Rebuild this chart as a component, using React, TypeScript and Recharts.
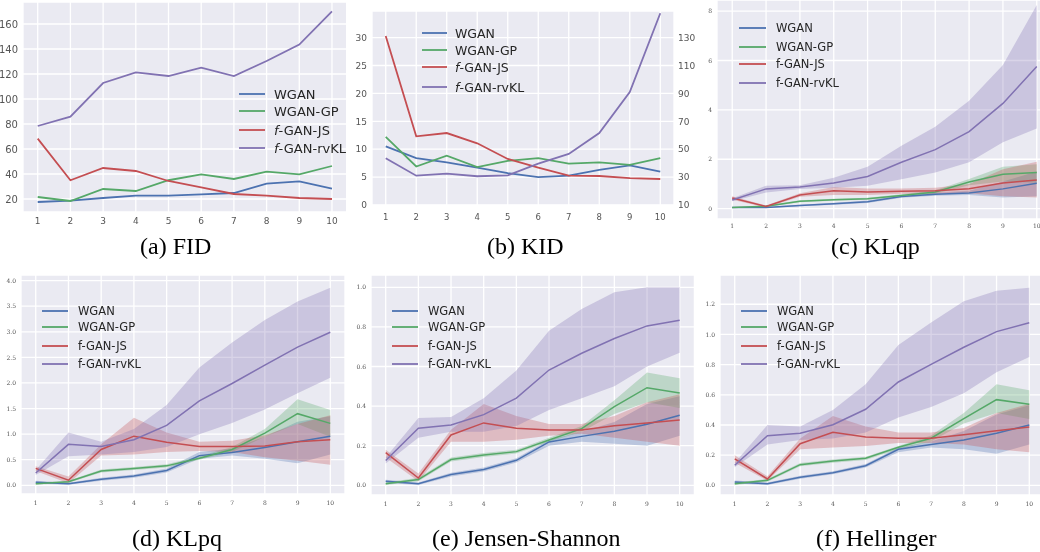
import React from 'react';
import { ComposedChart, Line, Area, XAxis, YAxis, CartesianGrid } from 'recharts';

const EPOCHS = [1, 2, 3, 4, 5, 6, 7, 8, 9, 10];
const NAMES = ['WGAN', 'WGAN-GP', 'f-GAN-JS', 'f-GAN-rvKL'];
const COLORS = ['#4C72B0', '#55A868', '#C44E52', '#8172B2'];

// (a) FID
const FID_WGAN = [17.6, 18.7, 20.8, 22.7, 22.7, 23.7, 24.8, 32.3, 34.1, 28.3];
const FID_WGAN_GP = [21.6, 18.4, 28, 26.4, 35, 39.7, 36, 41.9, 39.7, 46.4];
const FID_JS = [68.3, 35, 44.8, 42.4, 34.4, 29.3, 24, 22.7, 20.8, 20];
const FID_RVKL = [78.4, 85.9, 112.8, 121.3, 118.4, 125.1, 118.4, 130.4, 143.5, 170.1];

// (b) KID (rvKL on the right axis)
const KID_WGAN = [10.5, 8.4, 7.65, 6.7, 5.7, 5.0, 5.26, 6.3, 7.1, 6.0];
const KID_WGAN_GP = [12.2, 6.9, 8.85, 6.8, 7.9, 8.4, 7.4, 7.65, 7.2, 8.4];
const KID_JS = [30.3, 12.3, 12.9, 11.06, 8.25, 6.7, 5.26, 5.2, 4.8, 4.66];
const KID_RVKL = [43.5, 31, 32.5, 30.6, 31.3, 39.6, 46.6, 61.6, 91, 147.5];

// (c) KLqp
const KLQP_WGAN = [0.05, 0.05, 0.13, 0.2, 0.28, 0.49, 0.58, 0.63, 0.8, 1.03];
const KLQP_WGAN_CI: [number, number][] = [[0.03, 0.07], [0.03, 0.07], [0.1, 0.16], [0.16, 0.24], [0.23, 0.33], [0.44, 0.54], [0.52, 0.64], [0.55, 0.72], [0.45, 1.1], [0.5, 1.5]];
const KLQP_WGAN_GP = [0.05, 0.1, 0.3, 0.36, 0.4, 0.53, 0.67, 1.08, 1.39, 1.46];
const KLQP_WGAN_GP_CI: [number, number][] = [[0.03, 0.07], [0.07, 0.13], [0.26, 0.34], [0.32, 0.4], [0.36, 0.44], [0.48, 0.58], [0.6, 0.74], [0.95, 1.2], [1.1, 1.7], [1.05, 1.8]];
const KLQP_JS = [0.43, 0.09, 0.55, 0.72, 0.67, 0.7, 0.72, 0.81, 1.04, 1.16];
const KLQP_JS_CI: [number, number][] = [[0.36, 0.5], [0.05, 0.13], [0.48, 0.62], [0.55, 0.88], [0.55, 0.82], [0.6, 0.82], [0.6, 0.85], [0.62, 1.0], [0.5, 1.6], [0.45, 1.9]];
const KLQP_RVKL = [0.35, 0.8, 0.88, 1.04, 1.3, 1.88, 2.39, 3.12, 4.26, 5.76];
const KLQP_RVKL_CI: [number, number][] = [[0.3, 0.42], [0.65, 0.93], [0.8, 0.95], [0.85, 1.25], [0.93, 1.7], [1.19, 2.55], [1.46, 3.32], [1.88, 4.37], [2.69, 5.82], [3.25, 8.25]];

// (d) KLpq
const KLPQ_WGAN = [0.06, 0.03, 0.12, 0.18, 0.29, 0.58, 0.64, 0.74, 0.85, 0.96];
const KLPQ_WGAN_CI: [number, number][] = [[0.03, 0.09], [0.01, 0.05], [0.09, 0.15], [0.15, 0.21], [0.25, 0.33], [0.52, 0.65], [0.58, 0.72], [0.52, 0.95], [0.43, 1.24], [0.6, 1.35]];
const KLPQ_WGAN_GP = [0.03, 0.07, 0.28, 0.33, 0.38, 0.53, 0.7, 1.02, 1.4, 1.21];
const KLPQ_WGAN_GP_CI: [number, number][] = [[0.01, 0.05], [0.05, 0.09], [0.25, 0.31], [0.3, 0.36], [0.35, 0.41], [0.5, 0.57], [0.65, 0.75], [0.95, 1.1], [1.2, 1.68], [0.95, 1.47]];
const KLPQ_JS = [0.33, 0.1, 0.7, 0.96, 0.84, 0.76, 0.76, 0.77, 0.85, 0.89];
const KLPQ_JS_CI: [number, number][] = [[0.28, 0.37], [0.04, 0.17], [0.58, 0.8], [0.6, 1.32], [0.65, 1.03], [0.67, 0.85], [0.65, 0.87], [0.55, 0.98], [0.48, 1.2], [0.4, 1.37]];
const KLPQ_RVKL = [0.24, 0.8, 0.76, 0.89, 1.17, 1.65, 1.99, 2.35, 2.7, 2.99];
const KLPQ_RVKL_CI: [number, number][] = [[0.2, 0.3], [0.57, 1.03], [0.6, 0.85], [0.65, 1.1], [0.75, 1.57], [1.0, 2.3], [1.22, 2.79], [1.48, 3.23], [1.8, 3.59], [2.1, 3.86]];

// (e) Jensen-Shannon
const JS_WGAN = [0.02, 0.008, 0.054, 0.08, 0.126, 0.219, 0.247, 0.273, 0.308, 0.354];
const JS_WGAN_CI: [number, number][] = [[0.012, 0.028], [0.002, 0.014], [0.045, 0.063], [0.07, 0.09], [0.115, 0.137], [0.2, 0.23], [0.22, 0.27], [0.21, 0.32], [0.2, 0.41], [0.25, 0.45]];
const JS_WGAN_GP = [0.008, 0.029, 0.13, 0.153, 0.17, 0.229, 0.286, 0.397, 0.493, 0.466];
const JS_WGAN_GP_CI: [number, number][] = [[0.002, 0.014], [0.02, 0.038], [0.12, 0.14], [0.143, 0.163], [0.16, 0.18], [0.22, 0.24], [0.27, 0.3], [0.36, 0.43], [0.42, 0.57], [0.39, 0.54]];
const JS_JS = [0.165, 0.037, 0.254, 0.315, 0.288, 0.279, 0.279, 0.301, 0.315, 0.33];
const JS_JS_CI: [number, number][] = [[0.14, 0.18], [0.02, 0.06], [0.22, 0.28], [0.22, 0.41], [0.23, 0.35], [0.25, 0.31], [0.26, 0.31], [0.24, 0.35], [0.22, 0.42], [0.2, 0.46]];
const JS_RVKL = [0.125, 0.288, 0.305, 0.357, 0.44, 0.582, 0.667, 0.741, 0.805, 0.833];
const JS_RVKL_CI: [number, number][] = [[0.11, 0.14], [0.24, 0.34], [0.27, 0.345], [0.27, 0.44], [0.3, 0.58], [0.38, 0.78], [0.44, 0.89], [0.5, 0.975], [0.6, 1.0], [0.67, 1.0]];

// (f) Hellinger
const HEL_WGAN = [0.022, 0.011, 0.053, 0.084, 0.13, 0.239, 0.27, 0.3, 0.345, 0.4];
const HEL_WGAN_CI: [number, number][] = [[0.012, 0.032], [0.003, 0.019], [0.043, 0.063], [0.074, 0.094], [0.118, 0.142], [0.22, 0.25], [0.25, 0.29], [0.24, 0.36], [0.21, 0.47], [0.27, 0.53]];
const HEL_WGAN_GP = [0.011, 0.033, 0.137, 0.161, 0.179, 0.252, 0.312, 0.442, 0.568, 0.537];
const HEL_WGAN_GP_CI: [number, number][] = [[0.003, 0.019], [0.024, 0.042], [0.126, 0.148], [0.15, 0.172], [0.168, 0.19], [0.24, 0.26], [0.29, 0.33], [0.41, 0.48], [0.48, 0.67], [0.44, 0.63]];
const HEL_JS = [0.175, 0.042, 0.276, 0.351, 0.32, 0.312, 0.312, 0.336, 0.362, 0.387];
const HEL_JS_CI: [number, number][] = [[0.15, 0.2], [0.03, 0.06], [0.24, 0.31], [0.25, 0.46], [0.26, 0.39], [0.28, 0.35], [0.28, 0.35], [0.27, 0.38], [0.24, 0.48], [0.22, 0.54]];
const HEL_RVKL = [0.133, 0.329, 0.345, 0.402, 0.504, 0.685, 0.802, 0.915, 1.019, 1.078];
const HEL_RVKL_CI: [number, number][] = [[0.12, 0.15], [0.27, 0.4], [0.3, 0.39], [0.31, 0.5], [0.35, 0.67], [0.45, 0.93], [0.52, 1.08], [0.61, 1.22], [0.75, 1.29], [0.85, 1.31]];

// tick labels
const FID_TICKS = [20, 40, 60, 80, 100, 120, 140, 160];
const KID_TICKS = [0, 5, 10, 15, 20, 25, 30];
const KID_RIGHT_TICKS = [10, 30, 50, 70, 90, 110, 130];
const KLQP_TICKS = [0, 2, 4, 6, 8];
const KLPQ_TICKS = [0, 0.5, 1, 1.5, 2, 2.5, 3, 3.5, 4];
const JS_TICKS = [0, 0.2, 0.4, 0.6, 0.8, 1.0];
const HEL_TICKS = [0, 0.2, 0.4, 0.6, 0.8, 1.0, 1.2];

const SANS = '"DejaVu Sans", sans-serif';
const SERIF = '"DejaVu Serif", serif';
const CAPTION = '"Liberation Serif", "Times New Roman", serif';

type Series = { mean: number[]; ci?: [number, number][]; right?: boolean };

type PanelProps = {
  L: number; T: number; R: number; B: number;
  yW: number; rW?: number;
  yDomain: [number, number]; yTicks: number[];
  rDomain?: [number, number]; rTicks?: number[];
  fmt?: (v: number) => string;
  font: string; fontSize: number; yFontSize?: number; xTickSize: number;
  lineW: number;
  series: Series[];
};

function Panel(p: PanelProps) {
  const rW = p.rW || 0;
  const xh = 24;
  const w = p.yW + (p.R - p.L) + rW;
  const h = p.B - p.T + xh;
  const rows = EPOCHS.map((x, i) => {
    const r: any = { x };
    p.series.forEach((s, k) => {
      r['m' + k] = s.mean[i];
      if (s.ci) r['c' + k] = s.ci[i];
    });
    return r;
  });
  const tick = { fontSize: p.fontSize, fontFamily: p.font, fill: '#555' };
  const yTick = { ...tick, fontSize: p.yFontSize || p.fontSize };
  return (
    <div style={{ position: 'absolute', left: p.L - p.yW, top: p.T, width: w, height: h, willChange: 'transform' }}>
      <ComposedChart width={w} height={h} data={rows} margin={{ top: 0, right: 0, bottom: 0, left: 0 }}>
        <CartesianGrid yAxisId="l" fill="#EAEAF2" stroke="#fff" strokeWidth={1.3} />
        <XAxis dataKey="x" type="number" domain={[0.55, 10.45]} ticks={EPOCHS} interval={0}
          height={xh} axisLine={false} tickLine={false} tickSize={p.xTickSize} tick={tick} allowDataOverflow />
        <YAxis yAxisId="l" type="number" domain={p.yDomain} ticks={p.yTicks} interval={0} width={p.yW}
          axisLine={false} tickLine={false} tickSize={3} tick={yTick} tickFormatter={p.fmt} allowDataOverflow />
        {p.rDomain && (
          <YAxis yAxisId="r" orientation="right" type="number" domain={p.rDomain} ticks={p.rTicks} interval={0}
            width={rW} axisLine={false} tickLine={false} tickSize={2} tick={yTick} allowDataOverflow />
        )}
        {p.series.map((s, k) => (
          <React.Fragment key={k}>
            {s.ci && (
              <Area yAxisId={s.right ? 'r' : 'l'} dataKey={'c' + k} type="linear" stroke="none"
                fill={COLORS[k]} fillOpacity={0.3} isAnimationActive={false} activeDot={false} />
            )}
            <Line yAxisId={s.right ? 'r' : 'l'} dataKey={'m' + k} type="linear" stroke={COLORS[k]}
              strokeWidth={p.lineW} dot={false} activeDot={false} isAnimationActive={false} />
          </React.Fragment>
        ))}
      </ComposedChart>
    </div>
  );
}

type LegendProps = { x1: number; x2: number; tx: number; rows: number[]; size: number; italicF?: boolean; lineW: number };

function LegendBox({ x1, x2, tx, rows, size, italicF, lineW }: LegendProps) {
  return (
    <g>
      {NAMES.map((n, k) => (
        <g key={n}>
          <line x1={x1} x2={x2} y1={rows[k]} y2={rows[k]} stroke={COLORS[k]} strokeWidth={lineW} />
          <text x={tx} y={rows[k]} dominantBaseline="central" fontFamily={SANS} fontSize={size} fill="#262626">
            {italicF && n.startsWith('f-') ? (
              <>
                <tspan fontStyle="italic">f</tspan>
                {n.slice(1)}
              </>
            ) : n}
          </text>
        </g>
      ))}
    </g>
  );
}

const fmt1 = (v: number) => v.toFixed(1);

export default function App() {
  return (
    <div style={{ position: 'absolute', left: 0, top: 0, width: 1040, height: 552, overflow: 'hidden', background: '#fff' }}>
      <Panel L={23} T={2} R={346.7} B={212} yW={28} yDomain={[9.6, 177.6]} yTicks={FID_TICKS}
        font={SANS} fontSize={9} yFontSize={10} xTickSize={4} lineW={1.8}
        series={[{ mean: FID_WGAN }, { mean: FID_WGAN_GP }, { mean: FID_JS }, { mean: FID_RVKL }]} />
      <Panel L={372} T={11} R={674} B={205.5} yW={27} rW={30} yDomain={[-0.09, 34.77]} yTicks={KID_TICKS}
        rDomain={[9.64, 149.08]} rTicks={KID_RIGHT_TICKS}
        font={SANS} fontSize={8.5} yFontSize={9} xTickSize={6} lineW={1.8}
        series={[{ mean: KID_WGAN }, { mean: KID_WGAN_GP }, { mean: KID_JS }, { mean: KID_RVKL, right: true }]} />
      <Panel L={717} T={0} R={1052} B={219} yW={22} yDomain={[-0.42, 8.45]} yTicks={KLQP_TICKS}
        font={SERIF} fontSize={6} xTickSize={3} lineW={1.5}
        series={[
          { mean: KLQP_WGAN, ci: KLQP_WGAN_CI }, { mean: KLQP_WGAN_GP, ci: KLQP_WGAN_GP_CI },
          { mean: KLQP_JS, ci: KLQP_JS_CI }, { mean: KLQP_RVKL, ci: KLQP_RVKL_CI }]} />
      <Panel L={21} T={275} R={345} B={494} yW={21} yDomain={[-0.17, 4.11]} yTicks={KLPQ_TICKS} fmt={fmt1}
        font={SERIF} fontSize={6} xTickSize={5} lineW={1.5}
        series={[
          { mean: KLPQ_WGAN, ci: KLPQ_WGAN_CI }, { mean: KLPQ_WGAN_GP, ci: KLPQ_WGAN_GP_CI },
          { mean: KLPQ_JS, ci: KLPQ_JS_CI }, { mean: KLPQ_RVKL, ci: KLPQ_RVKL_CI }]} />
      <Panel L={371} T={275} R={694.4} B={495} yW={21} yDomain={[-0.049, 1.062]} yTicks={JS_TICKS} fmt={fmt1}
        font={SERIF} fontSize={6} xTickSize={5} lineW={1.5}
        series={[
          { mean: JS_WGAN, ci: JS_WGAN_CI }, { mean: JS_WGAN_GP, ci: JS_WGAN_GP_CI },
          { mean: JS_JS, ci: JS_JS_CI }, { mean: JS_RVKL, ci: JS_RVKL_CI }]} />
      <Panel L={720} T={275} R={1044} B={495} yW={21} yDomain={[-0.064, 1.394]} yTicks={HEL_TICKS} fmt={fmt1}
        font={SERIF} fontSize={6} xTickSize={5} lineW={1.5}
        series={[
          { mean: HEL_WGAN, ci: HEL_WGAN_CI }, { mean: HEL_WGAN_GP, ci: HEL_WGAN_GP_CI },
          { mean: HEL_JS, ci: HEL_JS_CI }, { mean: HEL_RVKL, ci: HEL_RVKL_CI }]} />

      <svg width={1040} height={552} style={{ position: 'absolute', left: 0, top: 0, pointerEvents: 'none' }}>
        <LegendBox x1={239} x2={265} tx={274} rows={[94, 111, 130, 148]} size={13} italicF lineW={1.8} />
        <LegendBox x1={422} x2={447} tx={455} rows={[33, 50, 67, 87]} size={12.5} italicF lineW={1.8} />
        <LegendBox x1={739} x2={766} tx={776} rows={[28, 47, 64, 83]} size={11.5} lineW={1.8} />
        <LegendBox x1={42} x2={68} tx={78} rows={[311, 327, 346, 364]} size={11.5} lineW={1.8} />
        <LegendBox x1={392} x2={418} tx={428} rows={[311, 327, 346, 364]} size={11.5} lineW={1.8} />
        <LegendBox x1={741} x2={767} tx={777} rows={[311, 327, 346, 364]} size={11.5} lineW={1.8} />

        <g fontFamily={CAPTION} fontSize={24} fill="#000">
          <text x={140} y={254}>(a) FID</text>
          <text x={487} y={254}>(b) KID</text>
          <text x={831} y={254}>(c) KLqp</text>
          <text x={132} y={545.5}>(d) KLpq</text>
          <text x={432} y={545.5}>(e) Jensen-Shannon</text>
          <text x={816} y={545.5}>(f) Hellinger</text>
        </g>
      </svg>
    </div>
  );
}
